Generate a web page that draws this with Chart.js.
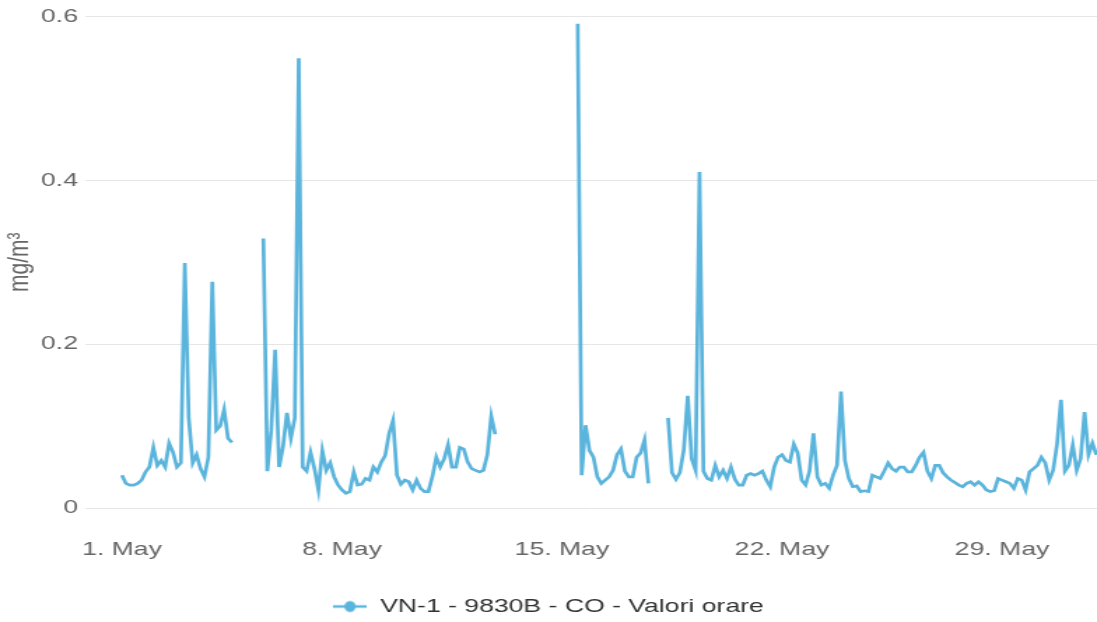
<!DOCTYPE html>
<html lang="it">
<head>
    <meta charset="UTF-8">
    <title>VN-1 - 9830B - CO - Valori orare</title>
    <script src="https://cdn.jsdelivr.net/npm/chart.js"></script>
    <style>
        body {
            margin: 0;
            background: #ffffff;
            overflow: hidden;
        }
        /* the reference is a horizontally stretched screenshot, so the canvas is drawn narrow and widened */
        #coChart {
            display: block;
            transform: scaleX(1.3992);
            transform-origin: 0 0;
        }
    </style>
</head>
<body>
    <canvas id="coChart" width="784" height="622"></canvas>

    <script>
        // one value every 3 hours from 1 May 00:00, null = no data
        const stepDays = 3 / 24;
        const coValues = [
            0.040, 0.030, 0.028, 0.028, 0.030, 0.034, 0.044, 0.050, // 1 May
            0.074, 0.052, 0.058, 0.050, 0.079, 0.068, 0.050, 0.055, // 2
            0.299, 0.110, 0.055, 0.065, 0.048, 0.038, 0.062, 0.276, // 3
            0.095, 0.100, 0.120, 0.085, 0.080, null, null, null,    // 4
            null, null, null, null, 0.329, 0.045, 0.095, 0.193,     // 5
            0.050, 0.075, 0.116, 0.085, 0.110, 0.549, 0.050, 0.045, // 6
            0.068, 0.048, 0.022, 0.070, 0.046, 0.055, 0.038, 0.028, // 7
            0.022, 0.018, 0.020, 0.044, 0.028, 0.029, 0.036, 0.034, // 8
            0.050, 0.044, 0.056, 0.064, 0.091, 0.107, 0.040, 0.029, // 9
            0.034, 0.032, 0.022, 0.034, 0.024, 0.020, 0.020, 0.038, // 10
            0.062, 0.050, 0.060, 0.077, 0.050, 0.050, 0.074, 0.072, // 11
            0.056, 0.048, 0.046, 0.044, 0.046, 0.065, 0.112, 0.090, // 12
            null, null, null, null, null, null, null, null,         // 13
            null, null, null, null, null, null, null, null,         // 14
            null, null, null, null, 0.591, 0.040, 0.101, 0.070,     // 15
            0.062, 0.038, 0.030, 0.034, 0.038, 0.046, 0.065, 0.072, // 16
            0.045, 0.038, 0.038, 0.062, 0.067, 0.083, 0.030, null,  // 17
            null, null, null, 0.110, 0.043, 0.035, 0.043, 0.071,    // 18
            0.137, 0.060, 0.046, 0.410, 0.045, 0.036, 0.034, 0.052, // 19
            0.038, 0.046, 0.036, 0.050, 0.035, 0.028, 0.028, 0.040, // 20
            0.042, 0.040, 0.042, 0.045, 0.034, 0.026, 0.050, 0.062, // 21
            0.065, 0.058, 0.056, 0.078, 0.067, 0.034, 0.028, 0.045, // 22
            0.091, 0.038, 0.028, 0.030, 0.024, 0.040, 0.052, 0.142, // 23
            0.058, 0.036, 0.026, 0.027, 0.020, 0.021, 0.020, 0.040, // 24
            0.038, 0.036, 0.045, 0.055, 0.048, 0.045, 0.050, 0.050, // 25
            0.044, 0.044, 0.052, 0.062, 0.068, 0.045, 0.036, 0.052, // 26
            0.052, 0.043, 0.038, 0.034, 0.031, 0.028, 0.026, 0.030, // 27
            0.032, 0.028, 0.032, 0.028, 0.022, 0.020, 0.021, 0.036, // 28
            0.034, 0.032, 0.030, 0.024, 0.036, 0.034, 0.022, 0.044, // 29
            0.048, 0.052, 0.062, 0.055, 0.034, 0.046, 0.078, 0.132, // 30
            0.045, 0.052, 0.077, 0.046, 0.060, 0.117, 0.065, 0.079, // 31
            0.065                                                   // 1 Jun
        ];

        const tickDays = [0, 7, 14, 21, 28];
        const tickLabels = ['1. May', '8. May', '15. May', '22. May', '29. May'];
        const yTicks = [0, 0.2, 0.4, 0.6];

        const seriesName = 'VN-1 - 9830B - CO - Valori orare';
        const lineColor = '#5ab4dc';

        // legend symbol: short line with a dot (squeezed so it looks round after stretching)
        const legendSymbol = document.createElement('canvas');
        legendSymbol.width = 24;
        legendSymbol.height = 14;
        const sctx = legendSymbol.getContext('2d');
        sctx.strokeStyle = lineColor;
        sctx.lineWidth = 2.5;
        sctx.beginPath();
        sctx.moveTo(0, 7);
        sctx.lineTo(24, 7);
        sctx.stroke();
        sctx.fillStyle = lineColor;
        sctx.beginPath();
        sctx.ellipse(12, 7, 4, 5.6, 0, 0, Math.PI * 2);
        sctx.fill();

        const points = coValues.map((v, i) => ({ x: i * stepDays, y: v }));

        const ctx = document.getElementById('coChart').getContext('2d');
        new Chart(ctx, {
            type: 'line',
            data: {
                datasets: [{
                    label: seriesName,
                    data: points,
                    borderColor: lineColor,
                    backgroundColor: lineColor,
                    borderWidth: 2.7,
                    pointRadius: 0,
                    pointHoverRadius: 0,
                    tension: 0,
                    spanGaps: false,
                    fill: false
                }]
            },
            options: {
                responsive: false,
                animation: false,
                devicePixelRatio: 1,
                layout: { padding: { top: 0, right: 0, bottom: -4, left: 0 } },
                plugins: {
                    tooltip: { enabled: false },
                    legend: {
                        position: 'bottom',
                        labels: {
                            usePointStyle: true,
                            pointStyle: legendSymbol,
                            pointStyleWidth: 24,
                            padding: 4,
                            color: '#333333',
                            font: { family: '"Liberation Sans", Arial, sans-serif', size: 19 }
                        }
                    }
                },
                scales: {
                    x: {
                        type: 'linear',
                        min: -1.177,
                        max: 31.02,
                        grid: { display: false },
                        border: { display: false },
                        afterBuildTicks: (scale) => {
                            scale.ticks = tickDays.map(v => ({ value: v }));
                        },
                        afterFit: (scale) => { scale.height = 85; },
                        ticks: {
                            autoSkip: false,
                            maxRotation: 0,
                            padding: 22,
                            color: '#666666',
                            font: { family: '"Liberation Sans", Arial, sans-serif', size: 19 },
                            callback: (v) => tickLabels[tickDays.indexOf(v)]
                        }
                    },
                    y: {
                        min: 0,
                        max: 0.6,
                        afterBuildTicks: (scale) => {
                            scale.ticks = yTicks.map(v => ({ value: v }));
                        },
                        afterFit: (scale) => { scale.width = 60.7; },
                        grid: { color: '#e6e6e6', lineWidth: 1, drawTicks: false },
                        border: { display: false },
                        ticks: {
                            padding: 5,
                            color: '#666666',
                            font: { family: '"Liberation Sans", Arial, sans-serif', size: 19 },
                            callback: (v) => String(v)
                        },
                        title: {
                            display: true,
                            text: 'mg/m³',
                            color: '#666666',
                            padding: { top: 2, bottom: 0 },
                            font: { family: '"Liberation Sans", Arial, sans-serif', size: 21 }
                        }
                    }
                }
            }
        });
    </script>
</body>
</html>
